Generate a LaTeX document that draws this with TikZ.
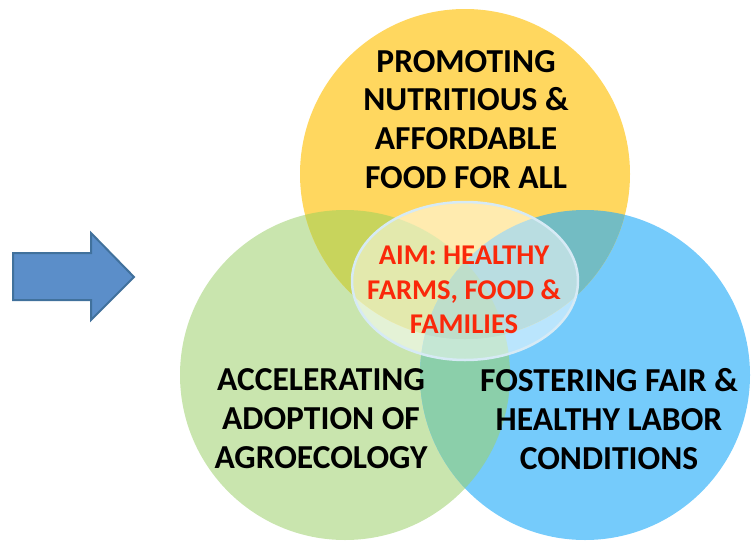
\documentclass[tikz,border=0pt]{standalone}
\usepackage{fontspec}
\setmainfont{Carlito}
\definecolor{cy}{RGB}{255,215,95}
\definecolor{cg}{RGB}{201,229,174}
\definecolor{cb}{RGB}{117,203,251}
\definecolor{cgy}{RGB}{200,212,92}
\definecolor{cyb}{RGB}{115,188,195}
\definecolor{cgb}{RGB}{139,207,170}
\definecolor{cgyb}{RGB}{125,190,150}
\definecolor{ered}{RGB}{250,40,10}
\definecolor{arrfill}{RGB}{91,142,201}
\definecolor{arrline}{RGB}{65,113,156}
\definecolor{ellline}{RGB}{214,234,245}
\tikzset{
  bigtext/.style={align=center, inner sep=0pt, font=\fontsize{33.5}{38.8}\selectfont\bfseries, text=black},
  aimtext/.style={align=center, inner sep=0pt, font=\fontsize{28.6}{34.6}\selectfont\bfseries, text=ered},
}
\begin{document}
\begin{tikzpicture}[x=1pt,y=-1pt]
\useasboundingbox (0,0) rectangle (752,544);
\coordinate (Y) at (465,174);
\coordinate (G) at (345,375);
\coordinate (B) at (585,375);
\def\R{165}
% circles
\fill[cg] (G) circle[radius=\R];
\fill[cb] (B) circle[radius=\R];
\fill[cy] (Y) circle[radius=\R];
\begin{scope}
  \clip (G) circle[radius=\R];
  \fill[cgy] (Y) circle[radius=\R];
  \fill[cgb] (B) circle[radius=\R];
  \clip (B) circle[radius=\R];
  \fill[cgyb] (Y) circle[radius=\R];
\end{scope}
\begin{scope}
  \clip (B) circle[radius=\R];
  \fill[cyb] (Y) circle[radius=\R];
  \clip (G) circle[radius=\R];
  \fill[cgyb] (Y) circle[radius=\R];
\end{scope}
% central ellipse
\path[fill=white, fill opacity=0.5, draw=ellline, line width=2.5pt] (465,281) ellipse[x radius=113, y radius=79];
% arrow
\draw[fill=arrfill, draw=arrline, line width=2pt, line join=miter]
  (13,253) -- (91,253) -- (91,233) -- (134,277) -- (91,320) -- (91,300) -- (13,300) -- cycle;
% texts
\node[bigtext] (food) at (466,119.5) {PROMOTING\\NUTRITIOUS \&\\AFFORDABLE\\FOOD FOR ALL};
\node[aimtext] (aim) at (464,290) {AIM: HEALTHY\\FARMS, FOOD \&\\FAMILIES};
\node[bigtext] (agro) at (321,418.5) {ACCELERATING\\ADOPTION OF\\AGROECOLOGY};
\node[bigtext] (labor) at (609,419) {FOSTERING FAIR \&\\HEALTHY LABOR\\CONDITIONS};
\end{tikzpicture}
\end{document}
